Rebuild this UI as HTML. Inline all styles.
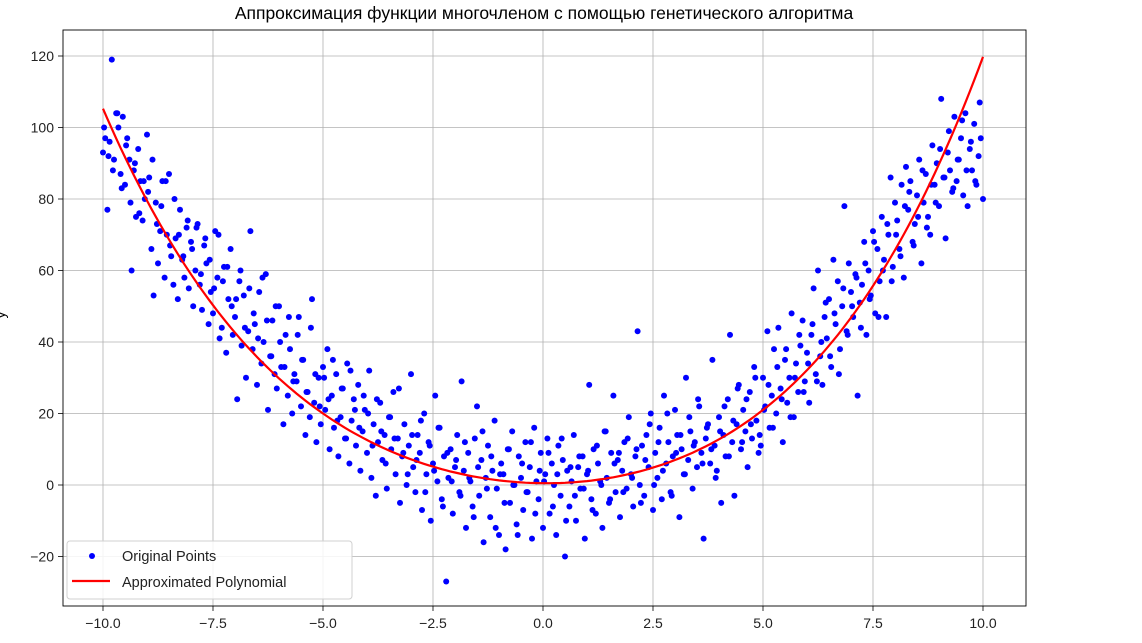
<!DOCTYPE html>
<html><head><meta charset="utf-8"><style>
body{margin:0;background:#fff;font-family:"Liberation Sans","DejaVu Sans",sans-serif;}
svg{display:block}
</style></head><body>
<svg id="chart" width="1142" height="643" xmlns="http://www.w3.org/2000/svg"></svg>
<script>
const xTicks=[-10,-7.5,-5,-2.5,0,2.5,5,7.5,10];
const xTickLabels=["−10.0","−7.5","−5.0","−2.5","0.0","2.5","5.0","7.5","10.0"];
const yTicks=[-20,0,20,40,60,80,100,120];
const yTickLabels=["−20","0","20","40","60","80","100","120"];
const polyCoefs=[0.5,-0.108,0.693,0.00833,0.00427];
const pointsX=[-10,-9.95,-9.9,-9.85,-9.8,-9.75,-9.7,-9.65,-9.6,-9.55,-9.5,-9.45,-9.4,-9.35,-9.3,-9.25,-9.2,-9.15,-9.1,-9.05,-9,-8.95,-8.9,-8.85,-8.8,-8.75,-8.7,-8.65,-8.6,-8.55,-8.5,-8.45,-8.4,-8.35,-8.3,-8.25,-8.2,-8.15,-8.1,-8.05,-8,-7.95,-7.9,-7.85,-7.8,-7.75,-7.7,-7.65,-7.6,-7.55,-7.5,-7.45,-7.4,-7.35,-7.3,-7.25,-7.2,-7.15,-7.1,-7.05,-7,-6.95,-6.9,-6.85,-6.8,-6.75,-6.7,-6.65,-6.6,-6.55,-6.5,-6.45,-6.4,-6.35,-6.3,-6.25,-6.2,-6.15,-6.1,-6.05,-6,-5.95,-5.9,-5.85,-5.8,-5.75,-5.7,-5.65,-5.6,-5.55,-5.5,-5.45,-5.4,-5.35,-5.3,-5.25,-5.2,-5.15,-5.1,-5.05,-5,-4.95,-4.9,-4.85,-4.8,-4.75,-4.7,-4.65,-4.6,-4.55,-4.5,-4.45,-4.4,-4.35,-4.3,-4.25,-4.2,-4.15,-4.1,-4.05,-4,-3.95,-3.9,-3.85,-3.8,-3.75,-3.7,-3.65,-3.6,-3.55,-3.5,-3.45,-3.4,-3.35,-3.3,-3.25,-3.2,-3.15,-3.1,-3.05,-3,-2.95,-2.9,-2.85,-2.8,-2.75,-2.7,-2.65,-2.6,-2.55,-2.5,-2.45,-2.4,-2.35,-2.3,-2.25,-2.2,-2.15,-2.1,-2.05,-2,-1.95,-1.9,-1.85,-1.8,-1.75,-1.7,-1.65,-1.6,-1.55,-1.5,-1.45,-1.4,-1.35,-1.3,-1.25,-1.2,-1.15,-1.1,-1.05,-1,-0.95,-0.9,-0.85,-0.8,-0.75,-0.7,-0.65,-0.6,-0.55,-0.5,-0.45,-0.4,-0.35,-0.3,-0.25,-0.2,-0.15,-0.1,-0.05,0,0.05,0.1,0.15,0.2,0.25,0.3,0.35,0.4,0.45,0.5,0.55,0.6,0.65,0.7,0.75,0.8,0.85,0.9,0.95,1,1.05,1.1,1.15,1.2,1.25,1.3,1.35,1.4,1.45,1.5,1.55,1.6,1.65,1.7,1.75,1.8,1.85,1.9,1.95,2,2.05,2.1,2.15,2.2,2.25,2.3,2.35,2.4,2.45,2.5,2.55,2.6,2.65,2.7,2.75,2.8,2.85,2.9,2.95,3,3.05,3.1,3.15,3.2,3.25,3.3,3.35,3.4,3.45,3.5,3.55,3.6,3.65,3.7,3.75,3.8,3.85,3.9,3.95,4,4.05,4.1,4.15,4.2,4.25,4.3,4.35,4.4,4.45,4.5,4.55,4.6,4.65,4.7,4.75,4.8,4.85,4.9,4.95,5,5.05,5.1,5.15,5.2,5.25,5.3,5.35,5.4,5.45,5.5,5.55,5.6,5.65,5.7,5.75,5.8,5.85,5.9,5.95,6,6.05,6.1,6.15,6.2,6.25,6.3,6.35,6.4,6.45,6.5,6.55,6.6,6.65,6.7,6.75,6.8,6.85,6.9,6.95,7,7.05,7.1,7.15,7.2,7.25,7.3,7.35,7.4,7.45,7.5,7.55,7.6,7.65,7.7,7.75,7.8,7.85,7.9,7.95,8,8.05,8.1,8.15,8.2,8.25,8.3,8.35,8.4,8.45,8.5,8.55,8.6,8.65,8.7,8.75,8.8,8.85,8.9,8.95,9,9.05,9.1,9.15,9.2,9.25,9.3,9.35,9.4,9.45,9.5,9.55,9.6,9.65,9.7,9.75,9.8,9.85,9.9,9.95,10];
const pointsY=[93,97,77,96,119,91,104,100,87,103,84,97,91,60,88,75,94,85,74,80,98,86,66,53,79,62,71,85,58,70,87,64,56,69,52,77,63,58,72,55,68,50,60,73,56,49,67,62,45,54,48,71,58,41,44,61,37,52,66,42,47,24,57,39,53,30,43,71,38,45,28,54,34,40,59,21,36,46,31,27,50,33,17,42,25,38,20,31,29,47,22,35,14,26,19,52,23,12,30,17,33,21,38,10,25,16,31,8,19,27,13,34,6,18,24,11,28,4,15,21,9,32,2,17,-3,12,23,7,14,-1,19,10,26,3,13,-5,8,17,0,11,31,5,-2,14,9,-7,20,3,12,-10,6,25,1,16,-4,8,-27,2,10,-8,5,14,-2,29,4,-12,9,1,-6,13,22,-3,7,-16,2,11,-9,4,18,-1,-14,6,3,-18,10,-5,15,0,-11,8,2,-7,12,-2,5,-15,16,1,-4,9,-12,3,13,-8,6,0,-14,11,-3,7,-20,4,-6,1,14,-10,5,-1,8,-15,3,28,-4,10,-8,6,1,-12,15,2,-5,9,25,-2,7,-9,4,12,-1,19,3,-6,8,43,0,11,-3,14,5,20,-7,9,2,16,-4,25,6,12,-2,8,21,14,-9,10,3,30,7,15,-1,12,5,22,9,-15,13,17,6,35,11,4,19,-5,14,8,24,42,12,-3,17,28,10,21,15,5,26,13,33,18,9,11,30,22,43,16,25,38,20,44,27,12,35,23,30,48,19,34,26,39,46,29,37,23,42,55,31,60,36,28,47,41,52,33,63,45,57,38,50,78,43,62,54,47,59,25,51,56,68,42,60,53,71,48,66,57,75,63,47,70,86,61,79,74,66,84,58,89,77,85,68,73,81,91,62,79,87,75,70,95,84,90,78,108,86,69,93,88,82,103,85,91,97,81,104,78,94,88,101,84,92,97,80,104];
const pointsX2=[-9.975,-9.875,-9.775,-9.675,-9.575,-9.475,-9.375,-9.275,-9.175,-9.075,-8.975,-8.875,-8.775,-8.675,-8.575,-8.475,-8.375,-8.275,-8.175,-8.075,-7.975,-7.875,-7.775,-7.675,-7.575,-7.475,-7.375,-7.275,-7.175,-7.075,-6.975,-6.875,-6.775,-6.675,-6.575,-6.475,-6.375,-6.275,-6.175,-6.075,-5.975,-5.875,-5.775,-5.675,-5.575,-5.475,-5.375,-5.275,-5.175,-5.075,-4.975,-4.875,-4.775,-4.675,-4.575,-4.475,-4.375,-4.275,-4.175,-4.075,-3.975,-3.875,-3.775,-3.675,-3.575,-3.475,-3.375,-3.275,-3.175,-3.075,-2.975,-2.875,-2.775,-2.675,-2.575,-2.475,-2.375,-2.275,-2.175,-2.075,-1.975,-1.875,-1.775,-1.675,-1.575,-1.475,-1.375,-1.275,-1.175,-1.075,-0.975,-0.875,-0.775,-0.675,-0.575,-0.475,-0.375,-0.275,-0.175,-0.075,0.025,0.125,0.225,0.325,0.425,0.525,0.625,0.725,0.825,0.925,1.025,1.125,1.225,1.325,1.425,1.525,1.625,1.725,1.825,1.925,2.025,2.125,2.225,2.325,2.425,2.525,2.625,2.725,2.825,2.925,3.025,3.125,3.225,3.325,3.425,3.525,3.625,3.725,3.825,3.925,4.025,4.125,4.225,4.325,4.425,4.525,4.625,4.725,4.825,4.925,5.025,5.125,5.225,5.325,5.425,5.525,5.625,5.725,5.825,5.925,6.025,6.125,6.225,6.325,6.425,6.525,6.625,6.725,6.825,6.925,7.025,7.125,7.225,7.325,7.425,7.525,7.625,7.725,7.825,7.925,8.025,8.125,8.225,8.325,8.425,8.525,8.625,8.725,8.825,8.925,9.025,9.125,9.225,9.325,9.425,9.525,9.625,9.725,9.825,9.925];
const pointsY2=[100,92,88,104,83,95,79,90,76,85,82,91,73,78,85,67,80,70,64,74,66,72,59,69,63,55,70,57,61,50,52,60,44,55,48,41,58,46,36,50,40,33,47,29,42,35,26,44,31,22,30,24,35,18,27,13,32,21,16,25,20,11,24,15,6,19,13,27,9,3,14,7,18,-2,11,4,16,-6,9,1,7,-3,12,2,-9,5,15,-1,8,-12,3,-5,10,0,-14,6,-2,12,-8,4,1,9,-6,3,13,-10,5,-3,8,-1,4,-7,11,0,15,-4,6,9,-2,13,2,10,-5,7,17,0,12,4,20,-3,9,14,3,19,11,24,6,16,10,2,15,22,8,18,27,12,24,17,30,14,21,28,16,33,24,38,19,30,42,26,34,45,29,40,51,36,48,31,55,42,50,58,44,62,52,68,47,60,73,57,70,64,78,82,67,75,88,72,84,79,94,86,99,83,91,102,88,96,85,107];
const svg=document.getElementById('chart');
const NS='http://www.w3.org/2000/svg';
const L=63,R=1026,T=30,B=606;
const x=v=>103+(v+10)*44;
const y=v=>485-v*3.575;
function mk(tag,attrs,parent){const e=document.createElementNS(NS,tag);for(const k in attrs)e.setAttribute(k,attrs[k]);(parent||svg).appendChild(e);return e;}
const grid=mk('g',{});


xTicks.forEach((t,i)=>{
  mk('line',{x1:x(t),x2:x(t),y1:T,y2:B,stroke:'#b0b0b0','stroke-width':0.8},grid);
  mk('line',{x1:x(t),x2:x(t),y1:B,y2:B+5,stroke:'#000','stroke-width':0.8});
  const tx=mk('text',{x:x(t),y:B+22,'text-anchor':'middle','font-size':14,fill:'#222'});
  tx.textContent=xTickLabels[i];
  
  
});
yTicks.forEach((t,i)=>{
  mk('line',{x1:L,x2:R,y1:y(t),y2:y(t),stroke:'#b0b0b0','stroke-width':0.8},grid);
  mk('line',{x1:L-5,x2:L,y1:y(t),y2:y(t),stroke:'#000','stroke-width':0.8});
  const tx=mk('text',{x:L-9,y:y(t)+5,'text-anchor':'end','font-size':14,fill:'#222'});
  tx.textContent=yTickLabels[i];
  
  
});
const pts=mk('g',{fill:'#0000ff'});


pointsX.forEach((px,i)=>{
  if(pointsY[i]===undefined)return;
  const c=mk('circle',{cx:x(px),cy:y(pointsY[i]),r:3},pts);
  
  
});
pointsX2.forEach((px,i)=>{
  if(pointsY2[i]===undefined)return;
  const c=mk('circle',{cx:x(px),cy:y(pointsY2[i]),r:3},pts);
  
  
});
let d='';
for(let i=0;i<=200;i++){const xv=-10+i*0.1;let yv=0;polyCoefs.forEach((c,k)=>yv+=c*Math.pow(xv,k));d+=(i?'L':'M')+x(xv).toFixed(1)+','+y(yv).toFixed(1);}
const line=mk('path',{d:d,fill:'none',stroke:'#ff0000','stroke-width':2.2});


const frame=mk('rect',{x:L,y:T,width:R-L,height:B-T,fill:'none',stroke:'#000','stroke-width':0.9});


const title=mk('text',{x:544,y:19,'text-anchor':'middle','font-size':17.5,fill:'#000'});
title.textContent='Аппроксимация функции многочленом с помощью генетического алгоритма';


const yl=mk('text',{x:5,y:315,'text-anchor':'middle','font-size':14,fill:'#000',transform:'rotate(-90 5 315)'});
yl.textContent='y';


const lg=mk('g',{});


mk('rect',{x:67,y:541,width:285,height:58,rx:3,fill:'#fff','fill-opacity':0.85,stroke:'#d0d0d0'},lg);
mk('circle',{cx:92,cy:556,r:3,fill:'#0000ff'},lg);
mk('line',{x1:72,x2:110,y1:581,y2:581,stroke:'#ff0000','stroke-width':2.2},lg);
const l1=mk('text',{x:122,y:561,'font-size':14.5,fill:'#222'},lg);l1.textContent='Original Points';


const l2=mk('text',{x:122,y:587,'font-size':14.5,fill:'#222'},lg);l2.textContent='Approximated Polynomial';


</script>
</body></html>
